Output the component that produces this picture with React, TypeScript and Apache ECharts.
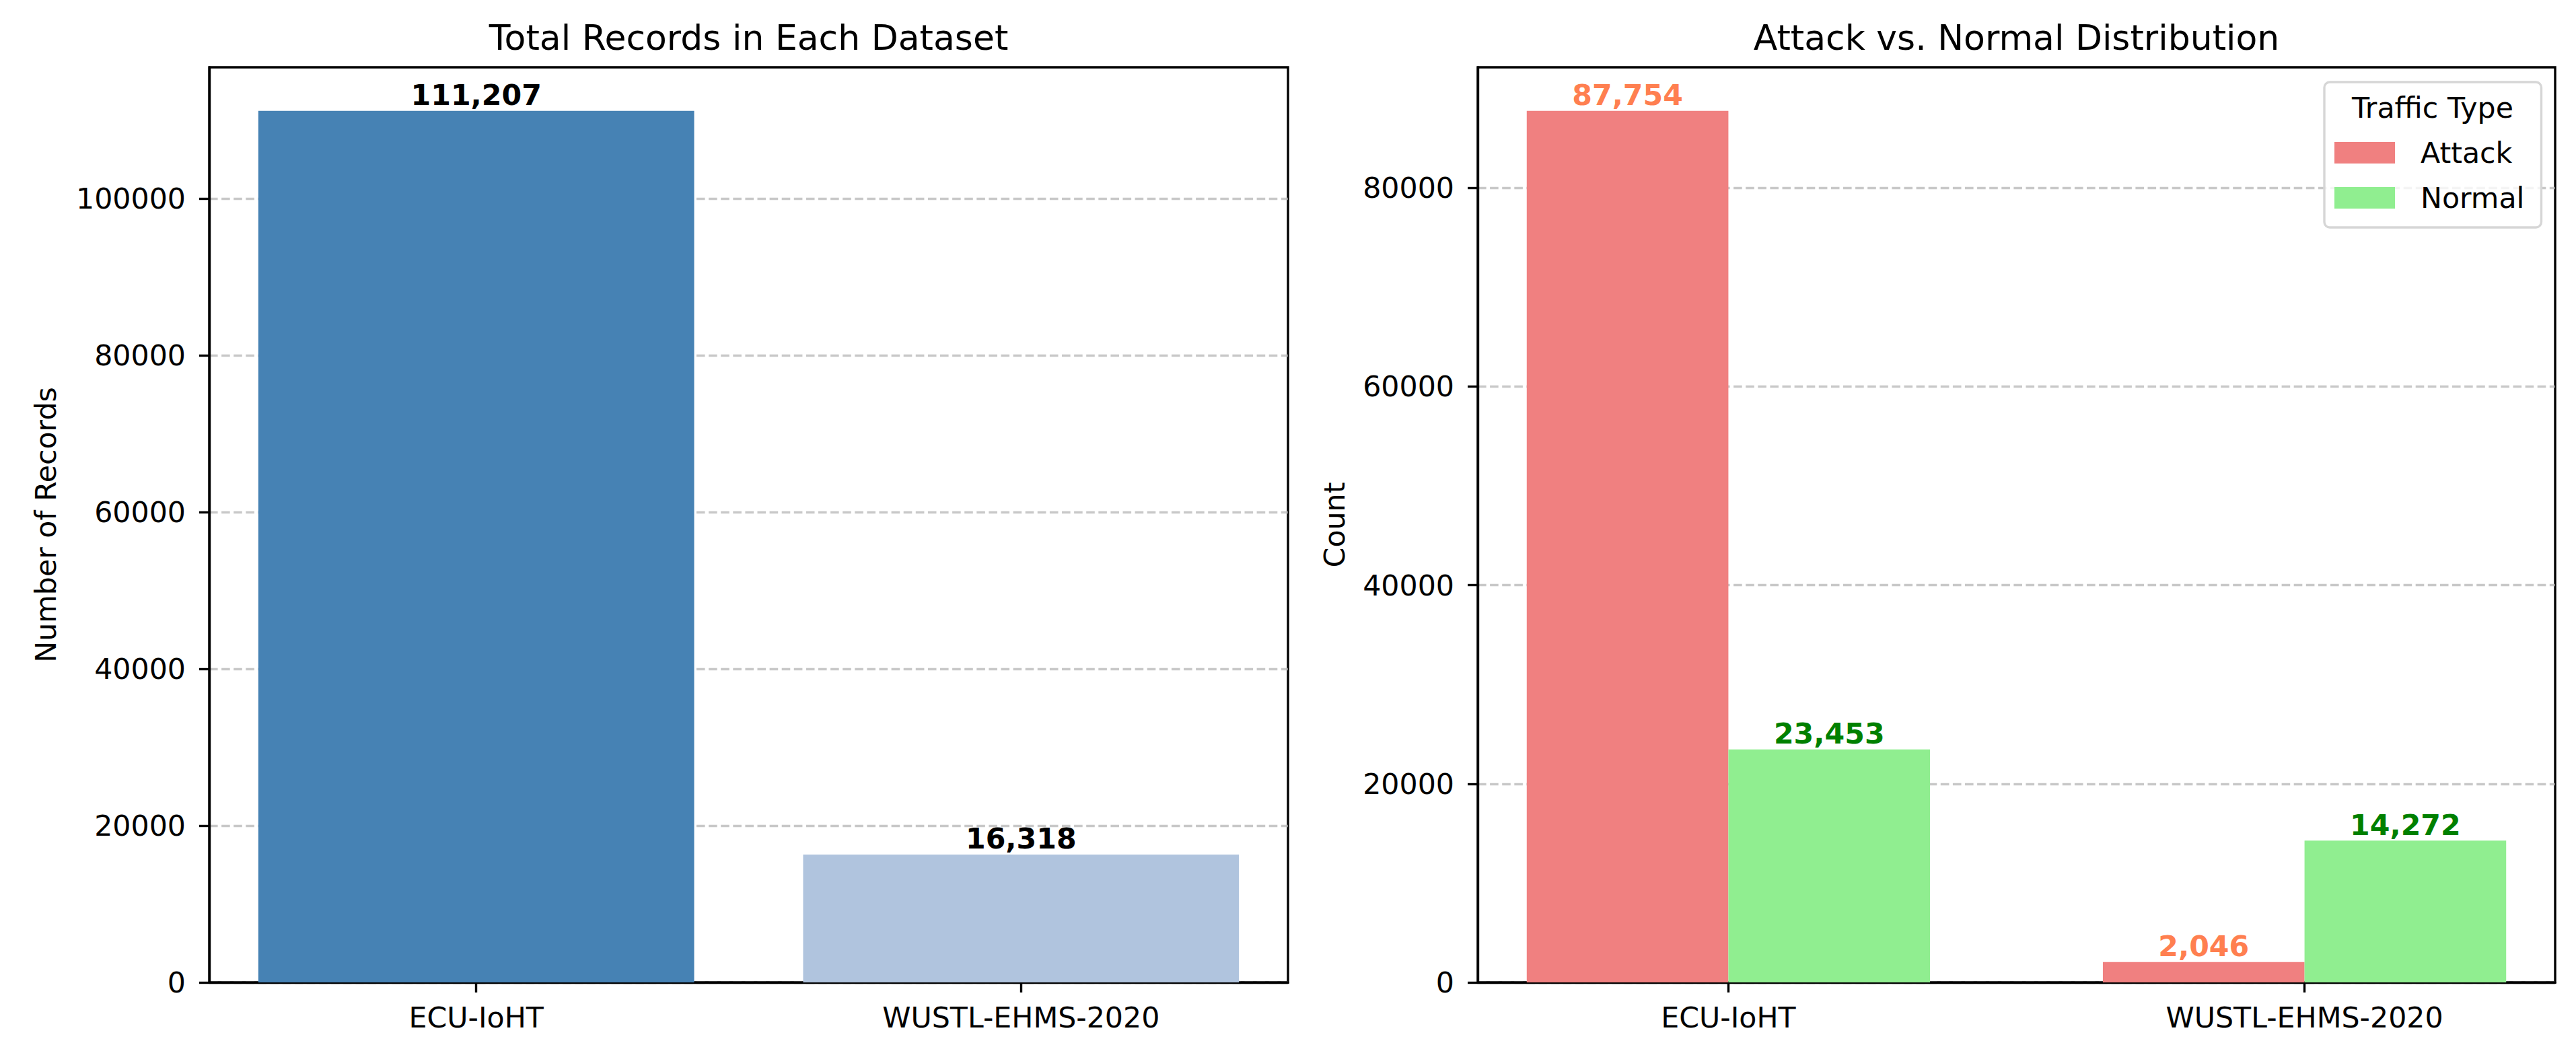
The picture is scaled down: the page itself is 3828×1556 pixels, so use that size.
import React, { useEffect, useRef } from "react";
import * as echarts from "echarts";

// ---- data ----
const datasets = ["ECU-IoHT", "WUSTL-EHMS-2020"];
const totalRecords = [111207, 16318];
const totalColors = ["#4682B4", "#B0C4DE"];
const trafficTypes = ["Attack", "Normal"];
const attackCounts = [87754, 2046];
const normalCounts = [23453, 14272];
const yTicksLeft = [0, 20000, 40000, 60000, 80000, 100000];
const yTicksRight = [0, 20000, 40000, 60000, 80000];
const titles = ["Total Records in Each Dataset", "Attack vs. Normal Distribution"];
const yNames = ["Number of Records", "Count"];
const legendTitle = "Traffic Type";

// ---- layout ----
const W = 3828;
const H = 1556;
const FONT = "DejaVu Sans";
const FS = 42.7;
const LW = 3.4;
const G1 = { left: 311, top: 100, width: 1603, height: 1360 };
const G2 = { left: 2196, top: 100, width: 1601, height: 1360 };
const X1 = { min: -0.49, max: 1.49 };
const X2 = { min: -0.435, max: 1.435 };
const px1 = G1.width / (X1.max - X1.min);
const px2 = G2.width / (X2.max - X2.min);
const yMax1 = Math.max(...totalRecords) * 1.05;
const yMax2 = Math.max(...attackCounts, ...normalCounts) * 1.05;

const fmt = (p: any) => Number(p.value[1]).toLocaleString("en-US");

function xAxis(gridIndex: number, ext: { min: number; max: number }) {
  return {
    gridIndex,
    type: "value",
    min: ext.min,
    max: ext.max,
    axisLine: { show: true, onZero: false, lineStyle: { color: "#000", width: LW } },
    axisTick: { show: true, customValues: [0, 1], length: 15, lineStyle: { color: "#000", width: LW } },
    axisLabel: {
      customValues: [0, 1],
      formatter: (v: number) => datasets[Math.round(v)] ?? "",
      margin: 30,
      fontSize: FS,
      lineHeight: 43,
      color: "#000",
      fontFamily: FONT,
    },
    splitLine: { show: false },
  };
}

function yAxis(gridIndex: number, max: number, ticks: number[], name: string, nameGap: number) {
  return {
    gridIndex,
    type: "value",
    min: 0,
    max,
    name,
    nameLocation: "middle",
    nameGap,
    nameTextStyle: { fontSize: FS, lineHeight: 43, color: "#000", fontFamily: FONT },
    axisLine: { show: true, onZero: false, lineStyle: { color: "#000", width: LW } },
    axisTick: { show: true, customValues: ticks, length: 15, lineStyle: { color: "#000", width: LW } },
    axisLabel: {
      customValues: ticks,
      formatter: (v: number) => String(v),
      margin: 35,
      fontSize: FS,
      color: "#000",
      fontFamily: FONT,
    },
    splitLine: {
      show: true,
      lineStyle: { color: "#b0b0b0", opacity: 0.7, width: LW, type: [12.6, 5.5] },
    },
  };
}

const labelBase = {
  show: true,
  position: "top",
  distance: 2,
  formatter: fmt,
  fontWeight: "bold",
  fontSize: FS,
  lineHeight: 43,
  fontFamily: FONT,
};

export default function App() {
  const ref = useRef<HTMLDivElement>(null);
  useEffect(() => {
    if (!ref.current) return;
    const chart = echarts.init(ref.current, undefined, { renderer: "svg", width: W, height: H });
    const option: any = {
      animation: false,
      backgroundColor: "#fff",
      textStyle: { fontFamily: FONT },
      title: [
        {
          text: titles[0],
          left: G1.left + G1.width / 2,
          top: 30,
          textAlign: "center",
          padding: 0,
          textStyle: { fontSize: 52, lineHeight: 52, fontWeight: "normal", color: "#000", fontFamily: FONT },
        },
        {
          text: titles[1],
          left: G2.left + G2.width / 2,
          top: 30,
          textAlign: "center",
          padding: 0,
          textStyle: { fontSize: 52, lineHeight: 52, fontWeight: "normal", color: "#000", fontFamily: FONT },
        },
        {
          text: legendTitle,
          left: 3615,
          top: 138.5,
          textAlign: "center",
          padding: 0,
          z: 20,
          textStyle: { fontSize: FS, lineHeight: 43, fontWeight: "normal", color: "#000", fontFamily: FONT },
        },
      ],
      legend: {
        data: trafficTypes,
        orient: "vertical",
        left: 3454,
        top: 122,
        itemWidth: 90,
        itemHeight: 32,
        itemGap: 23,
        icon: "rect",
        padding: [83, 25, 22, 15],
        backgroundColor: "rgba(255,255,255,0.8)",
        borderColor: "#d6d6d6",
        borderWidth: LW,
        borderRadius: 8,
        selectedMode: false,
        z: 10,
        textStyle: { fontSize: FS, lineHeight: 44, color: "#000", fontFamily: FONT, padding: [0, 0, 0, 33] },
      },
      grid: [
        { ...G1, show: true, borderColor: "#000", borderWidth: LW, backgroundColor: "transparent", containLabel: false },
        { ...G2, show: true, borderColor: "#000", borderWidth: LW, backgroundColor: "transparent", containLabel: false },
      ],
      xAxis: [xAxis(0, X1), xAxis(1, X2)],
      yAxis: [
        yAxis(0, yMax1, yTicksLeft, yNames[0], 222),
        yAxis(1, yMax2, yTicksRight, yNames[1], 192),
      ],
      series: [
        {
          type: "bar",
          name: "Total",
          xAxisIndex: 0,
          yAxisIndex: 0,
          barWidth: 0.8 * px1,
          data: totalRecords.map((v, i) => ({ value: [i, v], itemStyle: { color: totalColors[i] } })),
          label: { ...labelBase, color: "#000" },
        },
        {
          type: "bar",
          name: trafficTypes[0],
          xAxisIndex: 1,
          yAxisIndex: 1,
          barWidth: 0.35 * px2,
          barGap: "0%",
          itemStyle: { color: "#F08080" },
          data: attackCounts.map((v, i) => [i, v]),
          label: { ...labelBase, color: "#FF7F50" },
        },
        {
          type: "bar",
          name: trafficTypes[1],
          xAxisIndex: 1,
          yAxisIndex: 1,
          barWidth: 0.35 * px2,
          barGap: "0%",
          itemStyle: { color: "#90EE90" },
          data: normalCounts.map((v, i) => [i, v]),
          label: { ...labelBase, color: "#008000" },
        },
      ],
    };
    chart.setOption(option);
    return () => chart.dispose();
  }, []);
  return (
    <div
      ref={ref}
      style={{ position: "absolute", left: 0, top: 0, width: W, height: H, background: "#fff" }}
    />
  );
}
